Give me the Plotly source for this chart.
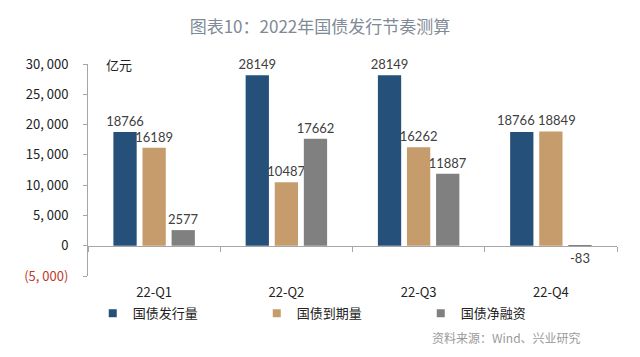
import plotly.graph_objects as go

categories = ["22-Q1", "22-Q2", "22-Q3", "22-Q4"]
issuance = [18766, 28149, 28149, 18766]
maturity = [16189, 10487, 16262, 18849]
net_financing = [2577, 17662, 11887, -83]
series_names = ["国债发行量", "国债到期量", "国债净融资"]
colors = ["#245079", "#C69C6D", "#808080"]
tick_vals = [-5000, 0, 5000, 10000, 15000, 20000, 25000, 30000]
tick_text = ["<span style='color:#C0392B'>(5, 000)</span>", "0", "5, 000", "10, 000",
             "15, 000", "20, 000", "25, 000", "30, 000"]

LABEL_FONT = dict(family="Lato, Open Sans, sans-serif", size=13, color="#404040")
all_series = [issuance, maturity, net_financing]
# labels nudged sideways to avoid collisions (series index, category index, pixel nudge)
nudged = {(0, 3): -6, (1, 3): 6}

fig = go.Figure()
for si, (name, vals, col) in enumerate(zip(series_names, all_series, colors)):
    texts = ["" if (si, ci) in nudged else str(v) for ci, v in enumerate(vals)]
    fig.add_trace(go.Bar(
        x=categories, y=vals, name=name, marker=dict(color=col, line=dict(width=0)),
        text=texts, textposition="outside", cliponaxis=False,
        constraintext="none", showlegend=False, textfont=LABEL_FONT,
    ))
# legend entries with small square symbols
for name, col in zip(series_names, colors):
    fig.add_trace(go.Scatter(x=[None], y=[None], mode="markers", name=name,
                             marker=dict(symbol="square", size=8, color=col)))

# invisible helper trace for boundary ticks on the zero line axis
fig.add_trace(go.Scatter(x=categories, y=[0] * 4, xaxis="x2", mode="markers",
                         marker=dict(opacity=0), showlegend=False, hoverinfo="skip"))

ymin, ymax = -5000, 30000
plot_w = 640 - 88 - 23
bargap, ngroups = 0.34, 3
slot_px = plot_w / len(categories) * (1 - bargap) / ngroups

annotations = [
    dict(text="亿元", xref="paper", yref="paper", x=0.03, y=1.0, xanchor="left",
         yanchor="middle", showarrow=False,
         font=dict(family="Noto Sans CJK SC", size=13, color="#222222")),
    dict(text="资料来源：Wind、兴业研究", xref="paper", yref="paper", x=0.935, y=-0.29,
         xanchor="right", yanchor="middle", showarrow=False,
         font=dict(family="Noto Sans CJK SC", size=12, color="#9A9A9A")),
]
for (si, ci), nudge in nudged.items():
    v = all_series[si][ci]
    annotations.append(dict(
        text=str(v), x=categories[ci], y=v, xref="x", yref="y",
        xshift=(si - 1) * slot_px + nudge, yshift=2, yanchor="bottom",
        showarrow=False, font=LABEL_FONT))

fig.update_layout(
    width=640, height=357,
    margin=dict(l=88, r=23, t=64, b=81, autoexpand=False),
    paper_bgcolor="white", plot_bgcolor="white",
    barmode="group", bargap=bargap, bargroupgap=0.2,
    title=dict(text="图表10：2022年国债发行节奏测算", x=0.5, xanchor="center",
               y=0.925, yanchor="middle",
               font=dict(family="Noto Sans CJK SC", size=17, color="#7F8A96")),
    xaxis=dict(type="category", categoryorder="array", categoryarray=categories,
               showline=False, ticks="", showgrid=False,
               tickfont=dict(family="Noto Sans CJK SC", size=13, color="#222222"),
               ticklabelstandoff=7),
    xaxis2=dict(type="category", categoryorder="array", categoryarray=categories,
                matches="x", overlaying="x", anchor="free",
                position=(0 - ymin) / (ymax - ymin),
                showline=True, linecolor="#A6A6A6", linewidth=1,
                ticks="outside", tickson="boundaries", ticklen=5, tickcolor="#A6A6A6",
                showticklabels=False, showgrid=False),
    yaxis=dict(range=[ymin, ymax], tickvals=tick_vals, ticktext=tick_text,
               showgrid=False, zeroline=False, showline=True, linecolor="#A6A6A6",
               ticks="outside", ticklen=4, tickcolor="#A6A6A6",
               tickfont=dict(family="Noto Sans CJK SC", size=13, color="#222222"),
               ticklabelstandoff=12),
    legend=dict(orientation="h", x=0.009, xanchor="left", y=-0.105, yanchor="top",
                entrywidth=119, entrywidthmode="pixels", bgcolor="rgba(0,0,0,0)",
                font=dict(family="Noto Sans CJK SC", size=13, color="#222222"),
                itemwidth=30, traceorder="normal", tracegroupgap=0),
    annotations=annotations,
    showlegend=True,
)

fig.write_html("out.html", config={"displayModeBar": False},
               post_script="document.body.style.margin='0';")
